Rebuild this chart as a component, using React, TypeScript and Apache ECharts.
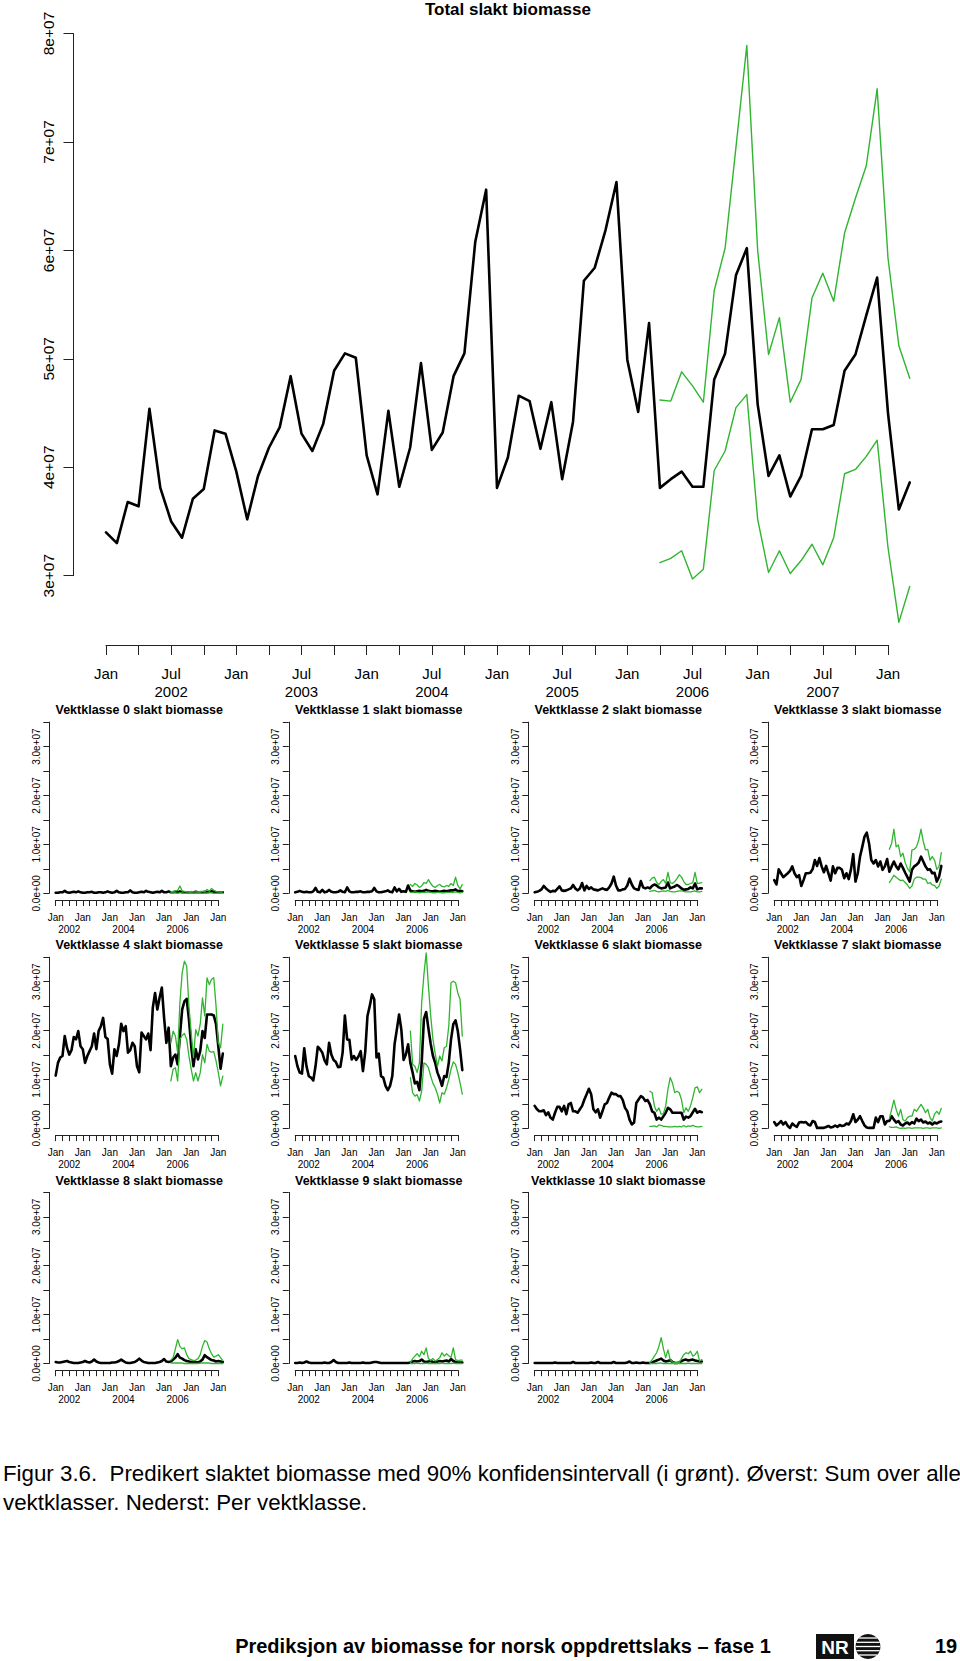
import React, { useEffect, useRef } from "react";
import * as echarts from "echarts";

// ---------------- DATA (values in units of 1e+07) ----------------
const START_YEAR = 2002;
const FORECAST_START = 51; // index of Apr 2006 (first forecast month)

// Total slakt biomasse, monthly Jan 2002 – Mar 2008
const totalMid = [
  3.40, 3.30, 3.68, 3.64, 4.54, 3.81, 3.50, 3.35, 3.71, 3.80,
  4.34, 4.31, 3.96, 3.52, 3.92, 4.18, 4.37, 4.84, 4.31, 4.15,
  4.40, 4.89, 5.05, 5.01, 4.11, 3.75, 4.52, 3.82, 4.18, 4.96,
  4.16, 4.32, 4.84, 5.05, 6.08, 6.56, 3.81, 4.09, 4.66, 4.61,
  4.17, 4.60, 3.89, 4.42, 5.72, 5.84, 6.19, 6.63, 4.99, 4.51,
  5.33, 3.81, 3.89, 3.96, 3.82, 3.82, 4.81, 5.05, 5.77, 6.02,
  4.58, 3.92, 4.11, 3.73, 3.92, 4.35, 4.35, 4.39, 4.89, 5.04,
  5.40, 5.75, 4.50, 3.61, 3.86,
];
const totalHi = [
  4.62, 4.61, 4.88, 4.75, 4.60, 5.63, 6.02, 6.95, 7.89, 6.00, 5.04, 5.38,
  4.60, 4.81, 5.56, 5.79, 5.53, 6.16, 6.48, 6.78, 7.49, 5.93, 5.12, 4.82,
];
const totalLo = [
  3.12, 3.16, 3.23, 2.97, 3.06, 3.97, 4.15, 4.55, 4.67, 3.52, 3.03, 3.23,
  3.02, 3.14, 3.29, 3.10, 3.35, 3.94, 3.98, 4.10, 4.25, 3.26, 2.57, 2.90,
];

const k0Mid = [
  0.01, 0.01, 0.02, 0.02, 0.05, 0.02, 0.01, 0.02, 0.03, 0.02,
  0.04, 0.02, 0.01, 0.01, 0.02, 0.02, 0.03, 0.01, 0.01, 0.02,
  0.02, 0.01, 0.02, 0.04, 0.02, 0.01, 0.02, 0.05, 0.02, 0.01,
  0.01, 0.02, 0.02, 0.06, 0.02, 0.01, 0.01, 0.02, 0.03, 0.02,
  0.05, 0.03, 0.02, 0.01, 0.02, 0.03, 0.02, 0.05, 0.02, 0.02,
  0.04, 0.02, 0.02, 0.03, 0.02, 0.04, 0.02, 0.02, 0.01, 0.02,
  0.02, 0.02, 0.03, 0.02, 0.02, 0.02, 0.03, 0.02, 0.03, 0.04,
  0.03, 0.02, 0.02, 0.02, 0.02,
];
const k0Hi = [0.03, 0.04, 0.05, 0.06, 0.15, 0.05, 0.04, 0.03, 0.03, 0.04, 0.03, 0.03, 0.03, 0.04, 0.04, 0.03, 0.08, 0.04, 0.10, 0.06, 0.04, 0.03, 0.03, 0.03];
const k0Lo = [0.01, 0.01, 0.01, 0.0, 0.01, 0.01, 0.0, 0.0, 0.01, 0.01, 0.0, 0.0, 0.01, 0.01, 0.0, 0.0, 0.01, 0.01, 0.01, 0.0, 0.0, 0.0, 0.01, 0.0];

const k1Mid = [
  0.02, 0.03, 0.05, 0.03, 0.02, 0.03, 0.02, 0.02, 0.04, 0.11,
  0.03, 0.02, 0.07, 0.02, 0.03, 0.07, 0.03, 0.02, 0.02, 0.03,
  0.06, 0.03, 0.02, 0.12, 0.04, 0.02, 0.02, 0.03, 0.03, 0.04,
  0.02, 0.02, 0.03, 0.03, 0.04, 0.11, 0.04, 0.02, 0.02, 0.03,
  0.04, 0.06, 0.03, 0.02, 0.12, 0.04, 0.09, 0.03, 0.04, 0.03,
  0.16, 0.05, 0.04, 0.03, 0.04, 0.05, 0.04, 0.05, 0.07, 0.05,
  0.04, 0.04, 0.05, 0.04, 0.03, 0.04, 0.05, 0.04, 0.05, 0.06,
  0.06, 0.08, 0.04, 0.05, 0.04,
];
const k1Hi = [0.18, 0.14, 0.20, 0.17, 0.12, 0.15, 0.22, 0.20, 0.28, 0.20, 0.14, 0.12, 0.16, 0.18, 0.14, 0.13, 0.16, 0.14, 0.20, 0.16, 0.33, 0.16, 0.09, 0.18];
const k1Lo = [0.02, 0.02, 0.03, 0.02, 0.01, 0.02, 0.02, 0.02, 0.03, 0.02, 0.01, 0.01, 0.02, 0.02, 0.01, 0.01, 0.02, 0.02, 0.02, 0.02, 0.03, 0.02, 0.01, 0.02];

const k2Mid = [
  0.02, 0.03, 0.05, 0.08, 0.15, 0.10, 0.06, 0.03, 0.05, 0.04,
  0.09, 0.14, 0.06, 0.05, 0.06, 0.08, 0.10, 0.17, 0.10, 0.06,
  0.10, 0.21, 0.06, 0.15, 0.09, 0.12, 0.08, 0.07, 0.06, 0.08,
  0.10, 0.08, 0.07, 0.12, 0.20, 0.34, 0.16, 0.06, 0.06, 0.08,
  0.09, 0.16, 0.30, 0.18, 0.10, 0.08, 0.07, 0.25, 0.12, 0.10,
  0.12, 0.10, 0.15, 0.18, 0.16, 0.12, 0.10, 0.11, 0.12, 0.22,
  0.10, 0.12, 0.14, 0.17, 0.14, 0.10, 0.07, 0.08, 0.09, 0.12,
  0.10, 0.20, 0.08, 0.10, 0.10,
];
const k2Hi = [0.26, 0.31, 0.33, 0.22, 0.18, 0.24, 0.28, 0.20, 0.43, 0.22, 0.20, 0.24, 0.30, 0.38, 0.33, 0.24, 0.18, 0.18, 0.20, 0.22, 0.43, 0.20, 0.21, 0.22];
const k2Lo = [0.04, 0.05, 0.06, 0.04, 0.03, 0.04, 0.05, 0.04, 0.06, 0.04, 0.03, 0.03, 0.04, 0.05, 0.05, 0.04, 0.03, 0.03, 0.03, 0.04, 0.05, 0.03, 0.03, 0.04];

const k3Mid = [
  0.27, 0.18, 0.49, 0.41, 0.33, 0.37, 0.41, 0.46, 0.55, 0.41,
  0.33, 0.37, 0.15, 0.27, 0.41, 0.41, 0.42, 0.49, 0.68, 0.56,
  0.72, 0.55, 0.43, 0.56, 0.41, 0.26, 0.55, 0.41, 0.52, 0.52,
  0.48, 0.31, 0.41, 0.29, 0.49, 0.80, 0.24, 0.41, 0.75, 0.95,
  1.16, 1.24, 1.02, 0.68, 0.61, 0.68, 0.55, 0.65, 0.48, 0.55,
  0.70, 0.44, 0.55, 0.65, 0.55, 0.49, 0.61, 0.52, 0.42, 0.33,
  0.24, 0.48, 0.55, 0.58, 0.63, 0.75, 0.65, 0.55, 0.48, 0.49,
  0.41, 0.42, 0.24, 0.34, 0.56,
];
const k3Hi = [0.90, 1.02, 1.31, 0.95, 0.99, 0.75, 0.82, 0.63, 0.51, 0.44, 0.89, 0.90, 0.95, 1.09, 1.31, 1.06, 0.89, 0.90, 0.68, 0.75, 0.68, 0.49, 0.55, 0.83];
const k3Lo = [0.22, 0.29, 0.37, 0.33, 0.29, 0.26, 0.27, 0.22, 0.17, 0.10, 0.15, 0.29, 0.33, 0.33, 0.32, 0.29, 0.29, 0.20, 0.22, 0.17, 0.16, 0.10, 0.15, 0.29];

const k4Mid = [
  1.08, 1.34, 1.45, 1.48, 1.89, 1.65, 1.51, 1.60, 1.87, 1.82,
  1.99, 1.68, 1.62, 1.34, 1.48, 1.58, 1.68, 1.94, 1.62, 1.99,
  2.09, 2.26, 1.87, 1.83, 1.31, 1.12, 1.62, 1.48, 1.72, 2.14,
  1.99, 2.09, 1.55, 1.60, 1.75, 1.68, 1.27, 1.15, 1.96, 1.89,
  1.82, 1.94, 1.60, 2.47, 2.77, 2.43, 2.67, 2.88, 2.26, 1.75,
  2.06, 1.27, 1.45, 1.51, 1.31, 1.89, 2.43, 2.60, 2.65, 2.23,
  1.68, 1.27, 1.62, 1.41, 1.58, 1.99, 1.85, 2.33, 2.33, 2.33,
  2.31, 2.13, 1.68, 1.22, 1.53,
];
const k4Hi = [1.75, 1.99, 1.89, 1.55, 2.57, 3.18, 3.42, 3.32, 2.50, 1.95, 1.45, 2.02, 1.89, 2.13, 2.67, 2.30, 3.08, 2.94, 3.05, 3.08, 2.50, 1.75, 1.65, 2.13];
const k4Lo = [0.97, 1.21, 1.24, 0.97, 1.82, 1.90, 1.94, 1.82, 1.48, 1.21, 0.97, 1.14, 0.97, 1.14, 1.51, 1.34, 1.72, 1.58, 1.56, 1.57, 1.38, 1.14, 0.87, 1.07];

const k5Mid = [
  1.48, 1.27, 1.14, 1.12, 1.64, 1.27, 1.07, 1.04, 0.98, 1.27,
  1.67, 1.62, 1.55, 1.39, 1.31, 1.75, 1.51, 1.40, 1.36, 1.25,
  1.26, 1.55, 2.31, 1.82, 1.81, 1.41, 1.48, 1.40, 1.47, 1.58,
  1.17, 1.56, 2.30, 2.50, 2.74, 2.64, 1.45, 1.53, 1.07, 1.04,
  0.87, 0.78, 0.87, 1.07, 1.72, 2.02, 2.33, 2.02, 1.40, 1.51,
  1.72, 1.34, 1.14, 0.92, 0.95, 0.78, 1.34, 2.24, 2.38, 2.04,
  1.73, 1.48, 1.34, 1.14, 1.02, 0.87, 1.07, 1.05, 1.34, 1.82,
  2.13, 2.21, 1.99, 1.62, 1.19,
];
const k5Hi = [1.99, 1.31, 1.27, 1.14, 1.34, 2.57, 3.15, 3.59, 2.91, 2.30, 1.82, 1.53, 1.27, 1.48, 1.38, 1.65, 1.68, 2.09, 2.98, 3.01, 2.98, 2.77, 2.64, 1.89];
const k5Lo = [1.04, 0.73, 0.66, 0.69, 0.56, 0.76, 1.34, 1.31, 1.24, 1.07, 0.92, 0.83, 0.70, 0.52, 0.73, 0.70, 0.83, 1.00, 1.21, 1.36, 1.31, 1.14, 0.93, 0.70];

const k6Mid = [
  0.46, 0.39, 0.35, 0.35, 0.37, 0.27, 0.33, 0.22, 0.18, 0.32,
  0.44, 0.44, 0.35, 0.46, 0.29, 0.49, 0.52, 0.35, 0.35, 0.32,
  0.39, 0.46, 0.59, 0.70, 0.81, 0.70, 0.39, 0.33, 0.39, 0.22,
  0.35, 0.49, 0.52, 0.63, 0.73, 0.70, 0.70, 0.66, 0.66, 0.58,
  0.42, 0.35, 0.18, 0.08, 0.12, 0.52, 0.59, 0.66, 0.63, 0.56,
  0.58, 0.49, 0.35, 0.32, 0.18, 0.22, 0.18, 0.25, 0.32, 0.42,
  0.39, 0.32, 0.32, 0.32, 0.32, 0.32, 0.18, 0.24, 0.22, 0.25,
  0.33, 0.40, 0.32, 0.35, 0.33,
];
const k6Hi = [0.76, 0.73, 0.46, 0.35, 0.42, 0.29, 0.30, 0.46, 0.80, 1.04, 0.93, 0.73, 0.76, 0.73, 0.59, 0.32, 0.42, 0.35, 0.46, 0.63, 0.83, 0.85, 0.73, 0.80];
const k6Lo = [0.04, 0.04, 0.05, 0.03, 0.07, 0.06, 0.04, 0.04, 0.03, 0.03, 0.03, 0.04, 0.03, 0.04, 0.03, 0.06, 0.03, 0.05, 0.04, 0.06, 0.04, 0.03, 0.03, 0.04];

const k7Mid = [
  0.13, 0.06, 0.10, 0.15, 0.08, 0.13, 0.05, 0.01, 0.10, 0.06,
  0.03, 0.12, 0.13, 0.12, 0.13, 0.08, 0.06, 0.15, 0.13, 0.01,
  0.01, 0.01, 0.01, 0.03, 0.05, 0.02, 0.03, 0.06, 0.03, 0.07,
  0.05, 0.06, 0.10, 0.08, 0.15, 0.29, 0.13, 0.18, 0.25, 0.15,
  0.06, 0.02, 0.01, 0.01, 0.01, 0.22, 0.13, 0.25, 0.25, 0.08,
  0.15, 0.15, 0.25, 0.18, 0.12, 0.15, 0.08, 0.06, 0.10, 0.12,
  0.08, 0.13, 0.10, 0.20, 0.15, 0.18, 0.12, 0.14, 0.10, 0.12,
  0.08, 0.12, 0.10, 0.13, 0.14,
];
const k7Hi = [0.20, 0.39, 0.58, 0.39, 0.25, 0.39, 0.18, 0.15, 0.22, 0.25, 0.25, 0.39, 0.35, 0.42, 0.49, 0.42, 0.32, 0.39, 0.22, 0.15, 0.29, 0.35, 0.29, 0.41];
const k7Lo = [0.03, 0.02, 0.02, 0.03, 0.01, 0.0, 0.01, 0.0, 0.01, 0.01, 0.0, 0.01, 0.01, 0.01, 0.01, 0.0, 0.01, 0.01, 0.0, 0.01, 0.01, 0.01, 0.0, 0.01];

const k8Mid = [
  0.03, 0.02, 0.02, 0.03, 0.04, 0.05, 0.03, 0.02, 0.01, 0.01,
  0.01, 0.02, 0.03, 0.05, 0.03, 0.02, 0.04, 0.08, 0.04, 0.02,
  0.01, 0.01, 0.01, 0.01, 0.01, 0.02, 0.02, 0.03, 0.05, 0.08,
  0.05, 0.02, 0.01, 0.01, 0.02, 0.03, 0.06, 0.10, 0.06, 0.03,
  0.02, 0.01, 0.01, 0.01, 0.01, 0.02, 0.03, 0.05, 0.09, 0.04,
  0.03, 0.04, 0.08, 0.12, 0.19, 0.12, 0.10, 0.07, 0.05, 0.04,
  0.03, 0.04, 0.03, 0.02, 0.04, 0.08, 0.17, 0.13, 0.10, 0.07,
  0.06, 0.04, 0.05, 0.04, 0.03,
];
const k8Hi = [0.07, 0.12, 0.30, 0.49, 0.35, 0.30, 0.32, 0.18, 0.10, 0.08, 0.06, 0.07, 0.10, 0.18, 0.35, 0.47, 0.44, 0.30, 0.20, 0.13, 0.15, 0.18, 0.12, 0.06];
const k8Lo = [0.01, 0.01, 0.01, 0.01, 0.01, 0.01, 0.0, 0.0, 0.0, 0.0, 0.0, 0.0, 0.0, 0.01, 0.01, 0.01, 0.01, 0.01, 0.0, 0.0, 0.0, 0.0, 0.0, 0.0];

const k9Mid = [
  0.01, 0.01, 0.02, 0.01, 0.02, 0.04, 0.02, 0.01, 0.01, 0.01,
  0.01, 0.01, 0.01, 0.02, 0.01, 0.01, 0.03, 0.07, 0.03, 0.01,
  0.01, 0.01, 0.01, 0.01, 0.02, 0.01, 0.01, 0.01, 0.01, 0.01,
  0.02, 0.01, 0.01, 0.01, 0.02, 0.03, 0.03, 0.02, 0.01, 0.01,
  0.01, 0.01, 0.01, 0.01, 0.01, 0.01, 0.01, 0.01, 0.01, 0.01,
  0.01, 0.02, 0.04, 0.05, 0.04, 0.05, 0.08, 0.04, 0.03, 0.04,
  0.05, 0.03, 0.02, 0.04, 0.05, 0.04, 0.05, 0.06, 0.04, 0.09,
  0.05, 0.03, 0.02, 0.02, 0.02,
];
const k9Hi = [0.02, 0.10, 0.15, 0.20, 0.14, 0.25, 0.18, 0.32, 0.10, 0.06, 0.10, 0.05, 0.08, 0.12, 0.22, 0.15, 0.20, 0.16, 0.12, 0.32, 0.08, 0.06, 0.07, 0.07];
const k9Lo = [0.0, 0.0, 0.0, 0.01, 0.0, 0.0, 0.0, 0.01, 0.0, 0.0, 0.0, 0.0, 0.0, 0.0, 0.01, 0.0, 0.0, 0.0, 0.0, 0.01, 0.0, 0.0, 0.0, 0.0];

const k10Mid = [
  0.01, 0.01, 0.01, 0.01, 0.01, 0.01, 0.01, 0.01, 0.01, 0.02,
  0.01, 0.01, 0.01, 0.01, 0.01, 0.01, 0.01, 0.03, 0.01, 0.01,
  0.01, 0.01, 0.01, 0.01, 0.01, 0.02, 0.01, 0.01, 0.03, 0.01,
  0.01, 0.01, 0.01, 0.01, 0.01, 0.03, 0.01, 0.01, 0.01, 0.01,
  0.01, 0.02, 0.04, 0.01, 0.01, 0.02, 0.01, 0.01, 0.02, 0.01,
  0.01, 0.01, 0.02, 0.04, 0.06, 0.08, 0.10, 0.06, 0.04, 0.05,
  0.07, 0.03, 0.01, 0.01, 0.02, 0.05, 0.07, 0.08, 0.06, 0.07,
  0.08, 0.06, 0.05, 0.04, 0.04,
];
const k10Hi = [0.02, 0.08, 0.15, 0.22, 0.35, 0.53, 0.30, 0.12, 0.28, 0.08, 0.03, 0.02, 0.02, 0.02, 0.10, 0.18, 0.22, 0.20, 0.25, 0.15, 0.18, 0.25, 0.05, 0.08];
const k10Lo = [0.0, 0.0, 0.0, 0.0, 0.01, 0.01, 0.0, 0.0, 0.0, 0.0, 0.0, 0.0, 0.0, 0.0, 0.0, 0.0, 0.0, 0.01, 0.0, 0.0, 0.0, 0.0, 0.0, 0.0];

const classMids = [k0Mid, k1Mid, k2Mid, k3Mid, k4Mid, k5Mid, k6Mid, k7Mid, k8Mid, k9Mid, k10Mid];
const classHis = [k0Hi, k1Hi, k2Hi, k3Hi, k4Hi, k5Hi, k6Hi, k7Hi, k8Hi, k9Hi, k10Hi];
const classLos = [k0Lo, k1Lo, k2Lo, k3Lo, k4Lo, k5Lo, k6Lo, k7Lo, k8Lo, k9Lo, k10Lo];

const mainTitle = "Total slakt biomasse";
const mainYTicks = [3, 8, 1]; // min, max, step (1e+07)
const panelYTicks = [0, 3.5, 0.5];
const captionLines = [
  "Figur 3.6.  Predikert slaktet biomasse med 90% konfidensintervall (i grønt). Øverst: Sum over alle",
  "vektklasser. Nederst: Per vektklasse.",
];
const footerText = "Prediksjon av biomasse for norsk oppdrettslaks – fase 1";
const pageNumber = "19";

// ---------------- STYLE / LAYOUT ----------------
const FONT = "'Liberation Sans', Arial, Helvetica, sans-serif";
const GREEN = "#2fb52f";
const AXIS = "#222";

const AXIS_MONTHS = 72; // drawn axis: Jan 2002 – Jan 2008
const DATA_MONTHS = 74; // data: Jan 2002 – Mar 2008

const mainLeft = 106;
const mainTop = 33.5;
const mainPxPerMonth = 782 / AXIS_MONTHS;
const mainPxPerUnit = 108.44;
const mainDataMin = 2;

const panelColX = [55.7, 295.2, 534.7, 774.2];
const panelPxPerMonth = 162.6 / AXIS_MONTHS;
const panelPxPerUnit = 48.9;
const panelDataMax = 4;
const panelZeroY0 = 893.3;
const panelRowStep = 235.1;
const panelTitleY0 = 710.3;

function toPairs(arr: number[], start: number) {
  return arr.map((v, i) => [start + i, v]);
}

export default function App() {
  const ref = useRef<HTMLDivElement>(null);

  useEffect(() => {
    if (!ref.current) return;
    const chart = echarts.init(ref.current, null, { renderer: "svg", width: 960, height: 1661 });

    const grids: any[] = [];
    const xAxes: any[] = [];
    const yAxes: any[] = [];
    const series: any[] = [];
    const graphics: any[] = [];

    const lineSeries = (idx: number, data: number[][], color: string, width: number) => ({
      type: "line",
      xAxisIndex: idx,
      yAxisIndex: idx,
      data,
      symbol: "none",
      showSymbol: false,
      clip: false,
      silent: true,
      lineStyle: { color, width, join: "round", cap: "round" },
      emphasis: { disabled: true },
    });

    const hiddenAxis = (gridIndex: number, min: number, max: number) => ({
      type: "value",
      gridIndex,
      min,
      max,
      show: false,
      axisLine: { show: false, onZero: false },
      axisTick: { show: false },
      axisLabel: { show: false },
      splitLine: { show: false },
    });

    // ---- main chart: display grid (axes) ----
    const mainHeight = (mainYTicks[1] - mainYTicks[0]) * mainPxPerUnit;
    grids.push({ left: mainLeft, top: mainTop, width: AXIS_MONTHS * mainPxPerMonth, height: mainHeight });
    xAxes.push({
      type: "value",
      gridIndex: 0,
      min: 0,
      max: AXIS_MONTHS,
      interval: 3,
      offset: 69.3,
      axisLine: { show: true, onZero: false, lineStyle: { color: AXIS, width: 1 } },
      axisTick: { show: true, length: 10, lineStyle: { color: AXIS, width: 1 } },
      splitLine: { show: false },
      axisLabel: {
        margin: 19,
        fontSize: 15,
        lineHeight: 18,
        color: "#000",
        fontFamily: FONT,
        formatter: (v: number) => {
          const m = v % 12;
          const y = START_YEAR + Math.floor(v / 12);
          if (m === 0) return "Jan";
          if (m === 6) return "Jul\n" + y;
          return "";
        },
      },
    });
    yAxes.push({
      type: "value",
      gridIndex: 0,
      min: mainYTicks[0],
      max: mainYTicks[1],
      interval: mainYTicks[2],
      offset: 32.5,
      axisLine: { show: true, onZero: false, lineStyle: { color: AXIS, width: 1 } },
      axisTick: { show: true, length: 10, lineStyle: { color: AXIS, width: 1 } },
      splitLine: { show: false },
      axisLabel: {
        rotate: 90,
        margin: 17,
        fontSize: 15.5,
        color: "#000",
        fontFamily: FONT,
        formatter: (v: number) => `${v}e+07`,
      },
    });
    // ---- main chart: data grid (hidden axes, covers Jan 2002 – Mar 2008) ----
    grids.push({
      left: mainLeft,
      top: mainTop,
      width: DATA_MONTHS * mainPxPerMonth,
      height: (mainYTicks[1] - mainDataMin) * mainPxPerUnit,
    });
    xAxes.push(hiddenAxis(1, 0, DATA_MONTHS));
    yAxes.push(hiddenAxis(1, mainDataMin, mainYTicks[1]));
    series.push(lineSeries(1, toPairs(totalMid, 0), "#000", 2.6));
    series.push(lineSeries(1, toPairs(totalHi, FORECAST_START), GREEN, 1.4));
    series.push(lineSeries(1, toPairs(totalLo, FORECAST_START), GREEN, 1.4));
    graphics.push({
      type: "text",
      x: mainLeft + 37 * mainPxPerMonth,
      y: 9.5,
      style: {
        text: mainTitle,
        fontSize: 17,
        fontWeight: "bold",
        fontFamily: FONT,
        fill: "#000",
        align: "center",
        verticalAlign: "middle",
      },
    });

    // ---- panels ----
    classMids.forEach((mid, p) => {
      const dispIdx = 2 + p * 2;
      const dataIdx = dispIdx + 1;
      const c = p % 4;
      const r = Math.floor(p / 4);
      const zeroY = panelZeroY0 + panelRowStep * r;
      const left = panelColX[c];
      const dispHeight = (panelYTicks[1] - panelYTicks[0]) * panelPxPerUnit;
      grids.push({ left, top: zeroY - dispHeight, width: AXIS_MONTHS * panelPxPerMonth, height: dispHeight });
      xAxes.push({
        type: "value",
        gridIndex: dispIdx,
        min: 0,
        max: AXIS_MONTHS,
        interval: 3,
        offset: 6.7,
        axisLine: { show: true, onZero: false, lineStyle: { color: AXIS, width: 1 } },
        axisTick: { show: true, length: 6, lineStyle: { color: AXIS, width: 1 } },
        splitLine: { show: false },
        axisLabel: {
          margin: 11,
          fontSize: 10,
          lineHeight: 12,
          color: "#000",
          fontFamily: FONT,
          formatter: (v: number) => {
            const m = v % 12;
            const y = START_YEAR + Math.floor(v / 12);
            if (m === 0) return "Jan";
            if (m === 6 && (y - START_YEAR) % 2 === 0 && y <= 2006) return "\n" + y;
            return "";
          },
        },
      });
      yAxes.push({
        type: "value",
        gridIndex: dispIdx,
        min: panelYTicks[0],
        max: panelYTicks[1],
        interval: panelYTicks[2],
        offset: 6.4,
        axisLine: { show: true, onZero: false, lineStyle: { color: AXIS, width: 1 } },
        axisTick: { show: true, length: 6, lineStyle: { color: AXIS, width: 1 } },
        splitLine: { show: false },
        axisLabel: {
          rotate: 90,
          margin: 8,
          fontSize: 10,
          color: "#000",
          fontFamily: FONT,
          formatter: (v: number) => {
            if (Math.abs(v - Math.round(v)) > 1e-6) return "";
            if (v === 0) return "0.0e+00";
            return `${v.toFixed(1)}e+07`;
          },
        },
      });
      const dataHeight = panelDataMax * panelPxPerUnit;
      grids.push({ left, top: zeroY - dataHeight, width: DATA_MONTHS * panelPxPerMonth, height: dataHeight });
      xAxes.push(hiddenAxis(dataIdx, 0, DATA_MONTHS));
      yAxes.push(hiddenAxis(dataIdx, 0, panelDataMax));
      series.push(lineSeries(dataIdx, toPairs(mid, 0), "#000", 2.6));
      series.push(lineSeries(dataIdx, toPairs(classHis[p], FORECAST_START), GREEN, 1.3));
      series.push(lineSeries(dataIdx, toPairs(classLos[p], FORECAST_START), GREEN, 1.3));
      graphics.push({
        type: "text",
        x: left + 37 * panelPxPerMonth,
        y: panelTitleY0 + panelRowStep * r,
        style: {
          text: `Vektklasse ${p} slakt biomasse`,
          fontSize: 12.5,
          fontWeight: "bold",
          fontFamily: FONT,
          fill: "#000",
          align: "center",
          verticalAlign: "middle",
        },
      });
    });

    // ---- caption ----
    captionLines.forEach((t, i) => {
      graphics.push({
        type: "text",
        x: 3,
        y: 1473 + i * 29.5,
        style: {
          text: t,
          fontSize: 22.3,
          fontFamily: FONT,
          fill: "#000",
          align: "left",
          verticalAlign: "middle",
        },
      });
    });

    // ---- footer ----
    graphics.push({
      type: "text",
      x: 503,
      y: 1646,
      style: {
        text: footerText,
        fontSize: 20,
        fontWeight: "bold",
        fontFamily: FONT,
        fill: "#000",
        align: "center",
        verticalAlign: "middle",
      },
    });
    graphics.push({
      type: "text",
      x: 946,
      y: 1646,
      style: {
        text: pageNumber,
        fontSize: 20,
        fontWeight: "bold",
        fontFamily: FONT,
        fill: "#000",
        align: "center",
        verticalAlign: "middle",
      },
    });
    // NR logo
    const logoChildren: any[] = [
      { type: "rect", shape: { x: 0, y: 0, width: 38, height: 25 }, style: { fill: "#111" } },
      {
        type: "text",
        x: 19,
        y: 13,
        style: {
          text: "NR",
          fontSize: 19,
          fontWeight: "bold",
          fontFamily: FONT,
          fill: "#fff",
          align: "center",
          verticalAlign: "middle",
        },
      },
      { type: "circle", shape: { cx: 52, cy: 12.5, r: 12.5 }, style: { fill: "#111" } },
    ];
    [-8.5, -4.2, 0, 4.2, 8.5].forEach((dy) => {
      const hw = Math.sqrt(Math.max(0, 12.5 * 12.5 - dy * dy));
      logoChildren.push({
        type: "line",
        shape: { x1: 52 - hw, y1: 12.5 + dy, x2: 52 + hw, y2: 12.5 + dy },
        style: { stroke: "#fff", lineWidth: 1.3 },
      });
    });
    graphics.push({ type: "group", x: 816, y: 1634, children: logoChildren });

    chart.setOption({
      animation: false,
      backgroundColor: "#fff",
      grid: grids,
      xAxis: xAxes,
      yAxis: yAxes,
      series,
      graphic: graphics,
    });

    return () => {
      chart.dispose();
    };
  }, []);

  return (
    <div
      ref={ref}
      style={{ position: "absolute", left: 0, top: 0, width: 960, height: 1661, background: "#fff" }}
    />
  );
}
